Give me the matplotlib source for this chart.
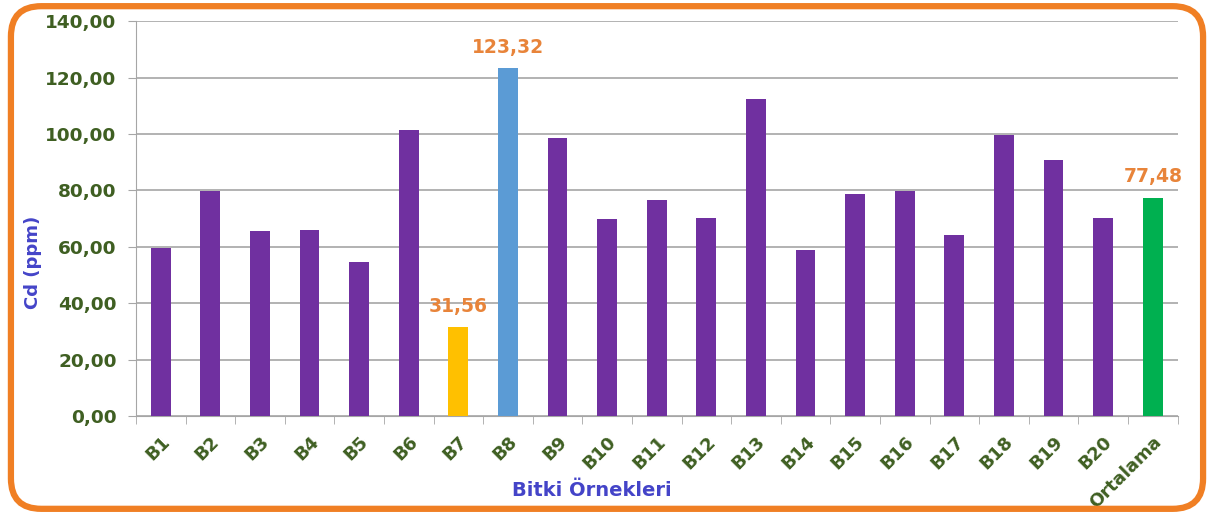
import matplotlib.pyplot as plt
from matplotlib.patches import FancyBboxPatch
import numpy as np

# Veriler
ornekler = ['B1', 'B2', 'B3', 'B4', 'B5', 'B6', 'B7', 'B8', 'B9', 'B10',
            'B11', 'B12', 'B13', 'B14', 'B15', 'B16', 'B17', 'B18', 'B19', 'B20',
            'Ortalama']
cd_ppm = [59.7, 79.8, 65.6, 66.0, 54.7, 101.4, 31.56, 123.32, 98.6, 69.9,
          76.6, 70.2, 112.3, 58.9, 78.7, 79.8, 64.2, 99.6, 90.6, 70.2,
          77.48]
renkler = ['#7030A0'] * 21
renkler[6] = '#FFC000'
renkler[7] = '#5B9BD5'
renkler[20] = '#00B050'
etiketli = [6, 7, 20]

yesil = '#3F5F22'
mavi = '#4444C8'
turuncu = '#E8843A'

fig = plt.figure(figsize=(12.14, 5.15), dpi=100)
ax = fig.add_axes([0.112, 0.192, 0.858, 0.767])

x = np.arange(len(ornekler))
ax.bar(x, cd_ppm, width=0.4, color=renkler, zorder=3)

for i in etiketli:
    ax.text(x[i], cd_ppm[i] + 4, f"{cd_ppm[i]:.2f}".replace('.', ','),
            ha='center', va='bottom', color=turuncu, fontsize=13.5, fontweight='bold')

ax.set_xlim(-0.5, len(ornekler) - 0.5)
ax.set_ylim(0, 140)
ax.set_yticks(np.arange(0, 141, 20))
ax.set_yticklabels([f"{v:.2f}".replace('.', ',') for v in np.arange(0, 141, 20)],
                   color=yesil, fontsize=13.3, fontweight='bold')
ax.grid(axis='y', color='#A6A6A6', linewidth=1.2, zorder=0)

ax.set_xticks(x)
ax.set_xticklabels(ornekler, rotation=45, ha='right', rotation_mode='anchor',
                   color=yesil, fontsize=13, fontweight='bold')
ax.set_xticks(np.arange(-0.5, len(ornekler)), minor=True)
ax.tick_params(axis='x', which='major', length=0, pad=12)
ax.tick_params(axis='x', which='minor', length=6, color='#A6A6A6')
ax.tick_params(axis='y', length=6, color='#A6A6A6', pad=8)

for s in ['top', 'right']:
    ax.spines[s].set_visible(False)
ax.spines['left'].set_color('#A6A6A6')
ax.spines['bottom'].set_color('#A6A6A6')

# eksen başlıkları
fig.text(33 / 1214, 1 - 262 / 515, 'Cd (ppm)', rotation=90, ha='center', va='center',
         color=mavi, fontsize=13, fontweight='bold')
fig.text(592 / 1214, 1 - 490 / 515, 'Bitki Örnekleri', ha='center', va='center',
         color=mavi, fontsize=14, fontweight='bold')

# turuncu yuvarlak çerçeve
cerceve = FancyBboxPatch((0.009, 0.012), 0.982, 0.976, boxstyle='round,pad=0,rounding_size=0.025',
                         transform=fig.transFigure, fill=False, edgecolor='#F07F24',
                         linewidth=4.5, mutation_aspect=1214 / 515)
fig.patches.append(cerceve)

fig.savefig('out.png', dpi=100)
